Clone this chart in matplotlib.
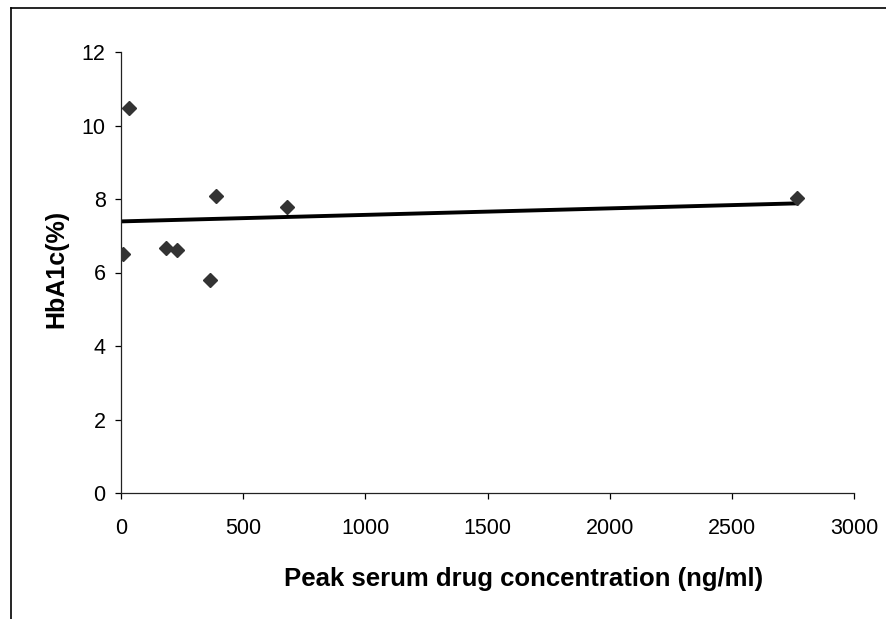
import numpy as np
import matplotlib.pyplot as plt
from matplotlib.lines import Line2D

# peak serum drug concentration (ng/ml) vs HbA1c (%)
conc = [8, 33, 186, 229, 364, 389, 680, 2767]
hba1c = [6.50, 10.48, 6.67, 6.61, 5.80, 8.08, 7.78, 8.03]

x_ticks = [0, 500, 1000, 1500, 2000, 2500, 3000]
y_ticks = [0, 2, 4, 6, 8, 10, 12]

plt.rcParams['font.family'] = ['Liberation Sans', 'DejaVu Sans']

fig = plt.figure(figsize=(8.86, 6.19), dpi=100)
ax = fig.add_axes([121 / 886, 1 - 493 / 619, (854 - 121) / 886, (493 - 52) / 619])

ax.plot(conc, hba1c, linestyle='none', marker='D', markersize=6.8,
        color='#333333', markeredgecolor='#333333', zorder=3)

# linear trend line
slope, intercept = np.polyfit(conc, hba1c, 1)
xs = np.array([0, max(conc)])
ax.plot(xs, slope * xs + intercept, color='black', linewidth=2.8, zorder=2)

ax.set_xlim(0, 3000)
ax.set_ylim(0, 12)
ax.set_xticks(x_ticks)
ax.set_yticks(y_ticks)
ax.spines['top'].set_visible(False)
ax.spines['right'].set_visible(False)
for s in ('left', 'bottom'):
    ax.spines[s].set_linewidth(0.9)
    ax.spines[s].set_color('#222222')
ax.tick_params(axis='x', direction='out', length=4, width=0.9, pad=14, labelsize=15.5)
ax.tick_params(axis='y', direction='out', length=4, width=0.9, pad=7, labelsize=15.5)

ax.set_xlabel('Peak serum drug concentration (ng/ml)', fontsize=18.5, fontweight='bold')
ax.set_ylabel('HbA1c(%)', fontsize=18, fontweight='bold')
ax.xaxis.set_label_coords(0.549, -0.167)
ax.yaxis.set_label_coords(-0.072, 0.508)

# outer chart frame (left and top edges visible)
fig.add_artist(Line2D([11 / 886, 11 / 886], [0, 1 - 8 / 619], color='black', linewidth=1.2))
fig.add_artist(Line2D([11 / 886, 1], [1 - 8 / 619, 1 - 8 / 619], color='black', linewidth=1.2))

fig.savefig('out.png', dpi=100)
